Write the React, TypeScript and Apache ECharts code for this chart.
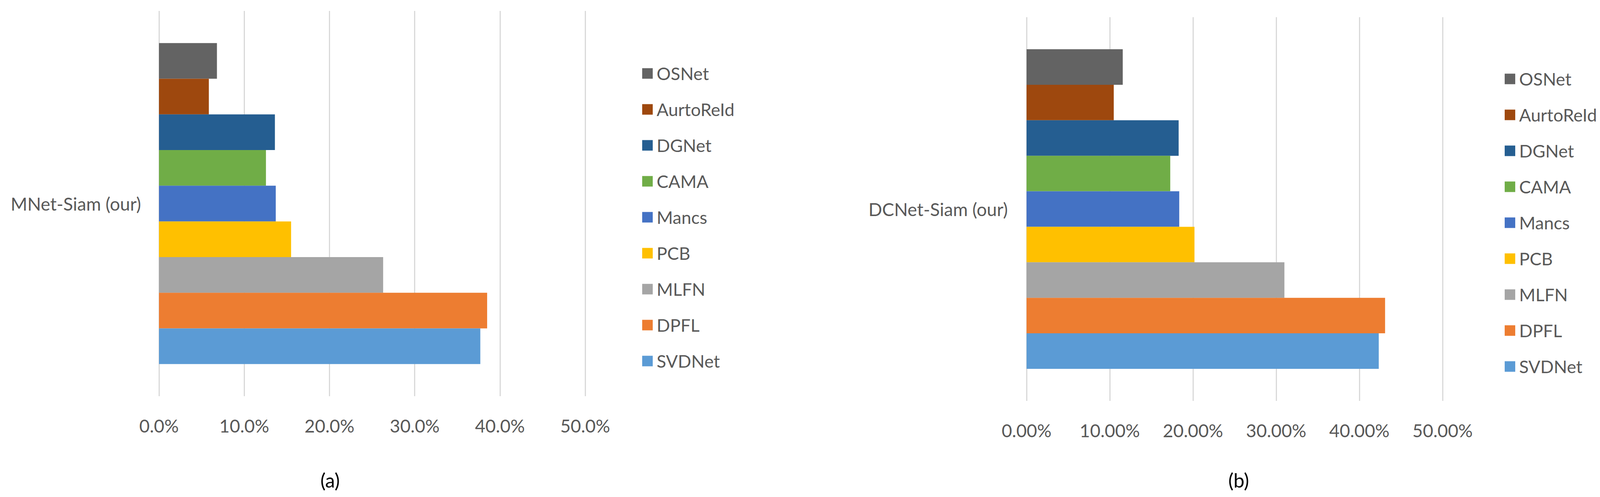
import React, { useEffect, useRef } from "react";
import * as echarts from "echarts";

const methods = ["OSNet", "AurtoReId", "DGNet", "CAMA", "Mancs", "PCB", "MLFN", "DPFL", "SVDNet"];
const colors = ["#636363", "#9E480E", "#255E91", "#70AD47", "#4472C4", "#FFC000", "#A5A5A5", "#ED7D31", "#5B9BD5"];
const valuesA = [0.068, 0.0585, 0.136, 0.1255, 0.137, 0.155, 0.263, 0.385, 0.377];
const valuesB = [0.1156, 0.1048, 0.1828, 0.1727, 0.1835, 0.2018, 0.3099, 0.4309, 0.4233];
const categoryA = ["MNet-Siam (our)"];
const categoryB = ["DCNet-Siam (our)"];
const captions = ["(a)", "(b)"];

const FONT = "Lato, 'Noto Sans', sans-serif";
const GRAY = "#595959";

export default function App() {
  const ref = useRef<HTMLDivElement>(null);
  useEffect(() => {
    document.body.style.margin = "0";
    const chart = echarts.init(ref.current!, null, { renderer: "svg" });
    const mkX = (idx: number, dec: number) => ({
      type: "value",
      gridIndex: idx,
      min: 0,
      max: 0.5,
      interval: 0.1,
      axisLine: { show: false },
      axisTick: { show: false },
      splitLine: { show: true, lineStyle: { color: "#D9D9D9", width: 3 } },
      axisLabel: {
        margin: 52,
        color: GRAY,
        fontSize: 46,
        fontFamily: FONT,
        formatter: (v: number) => (v * 100).toFixed(dec) + "%",
      },
    });
    const mkY = (idx: number, data: string[], margin: number) => ({
      type: "category",
      gridIndex: idx,
      data,
      axisLine: { show: false },
      axisTick: { show: false },
      axisLabel: { margin, color: GRAY, fontSize: 46, fontFamily: FONT },
    });
    const mkSeries = (idx: number, vals: number[]) =>
      methods.map((m, i) => ({
        type: "bar",
        name: m,
        xAxisIndex: idx,
        yAxisIndex: idx,
        data: [vals[i]],
        barGap: "0%",
        barCategoryGap: "16.7%",
        itemStyle: { color: colors[i] },
      }));
    const mkLegend = (left: number, top: number, gap: number) => ({
      orient: "vertical",
      left,
      top,
      padding: 0,
      data: methods,
      icon: "rect",
      itemWidth: 27,
      itemHeight: 27,
      itemGap: gap,
      selectedMode: false,
      textStyle: { color: GRAY, fontSize: 45, fontFamily: FONT, lineHeight: 52, padding: [0, 0, 0, 5] },
    });
    chart.setOption({
      animation: false,
      backgroundColor: "#ffffff",
      grid: [
        { left: 407, width: 1091, top: 28, height: 986 },
        { left: 2628, width: 1065, top: 44, height: 982 },
      ],
      xAxis: [mkX(0, 1), mkX(1, 2)],
      yAxis: [mkY(0, categoryA, 46), mkY(1, categoryB, 48)],
      legend: [mkLegend(1644, 162, 40), mkLegend(3852, 176, 40)],
      series: [...mkSeries(0, valuesA), ...mkSeries(1, valuesB)],
      graphic: [
        { type: "text", x: 845, y: 1229, style: { text: captions[0], fill: "#000", fontSize: 50, fontFamily: FONT, align: "center", verticalAlign: "middle" } },
        { type: "text", x: 3171, y: 1229, style: { text: captions[1], fill: "#000", fontSize: 50, fontFamily: FONT, align: "center", verticalAlign: "middle" } },
      ],
    });
    return () => chart.dispose();
  }, []);
  return <div ref={ref} style={{ width: 4108, height: 1272 }} />;
}
